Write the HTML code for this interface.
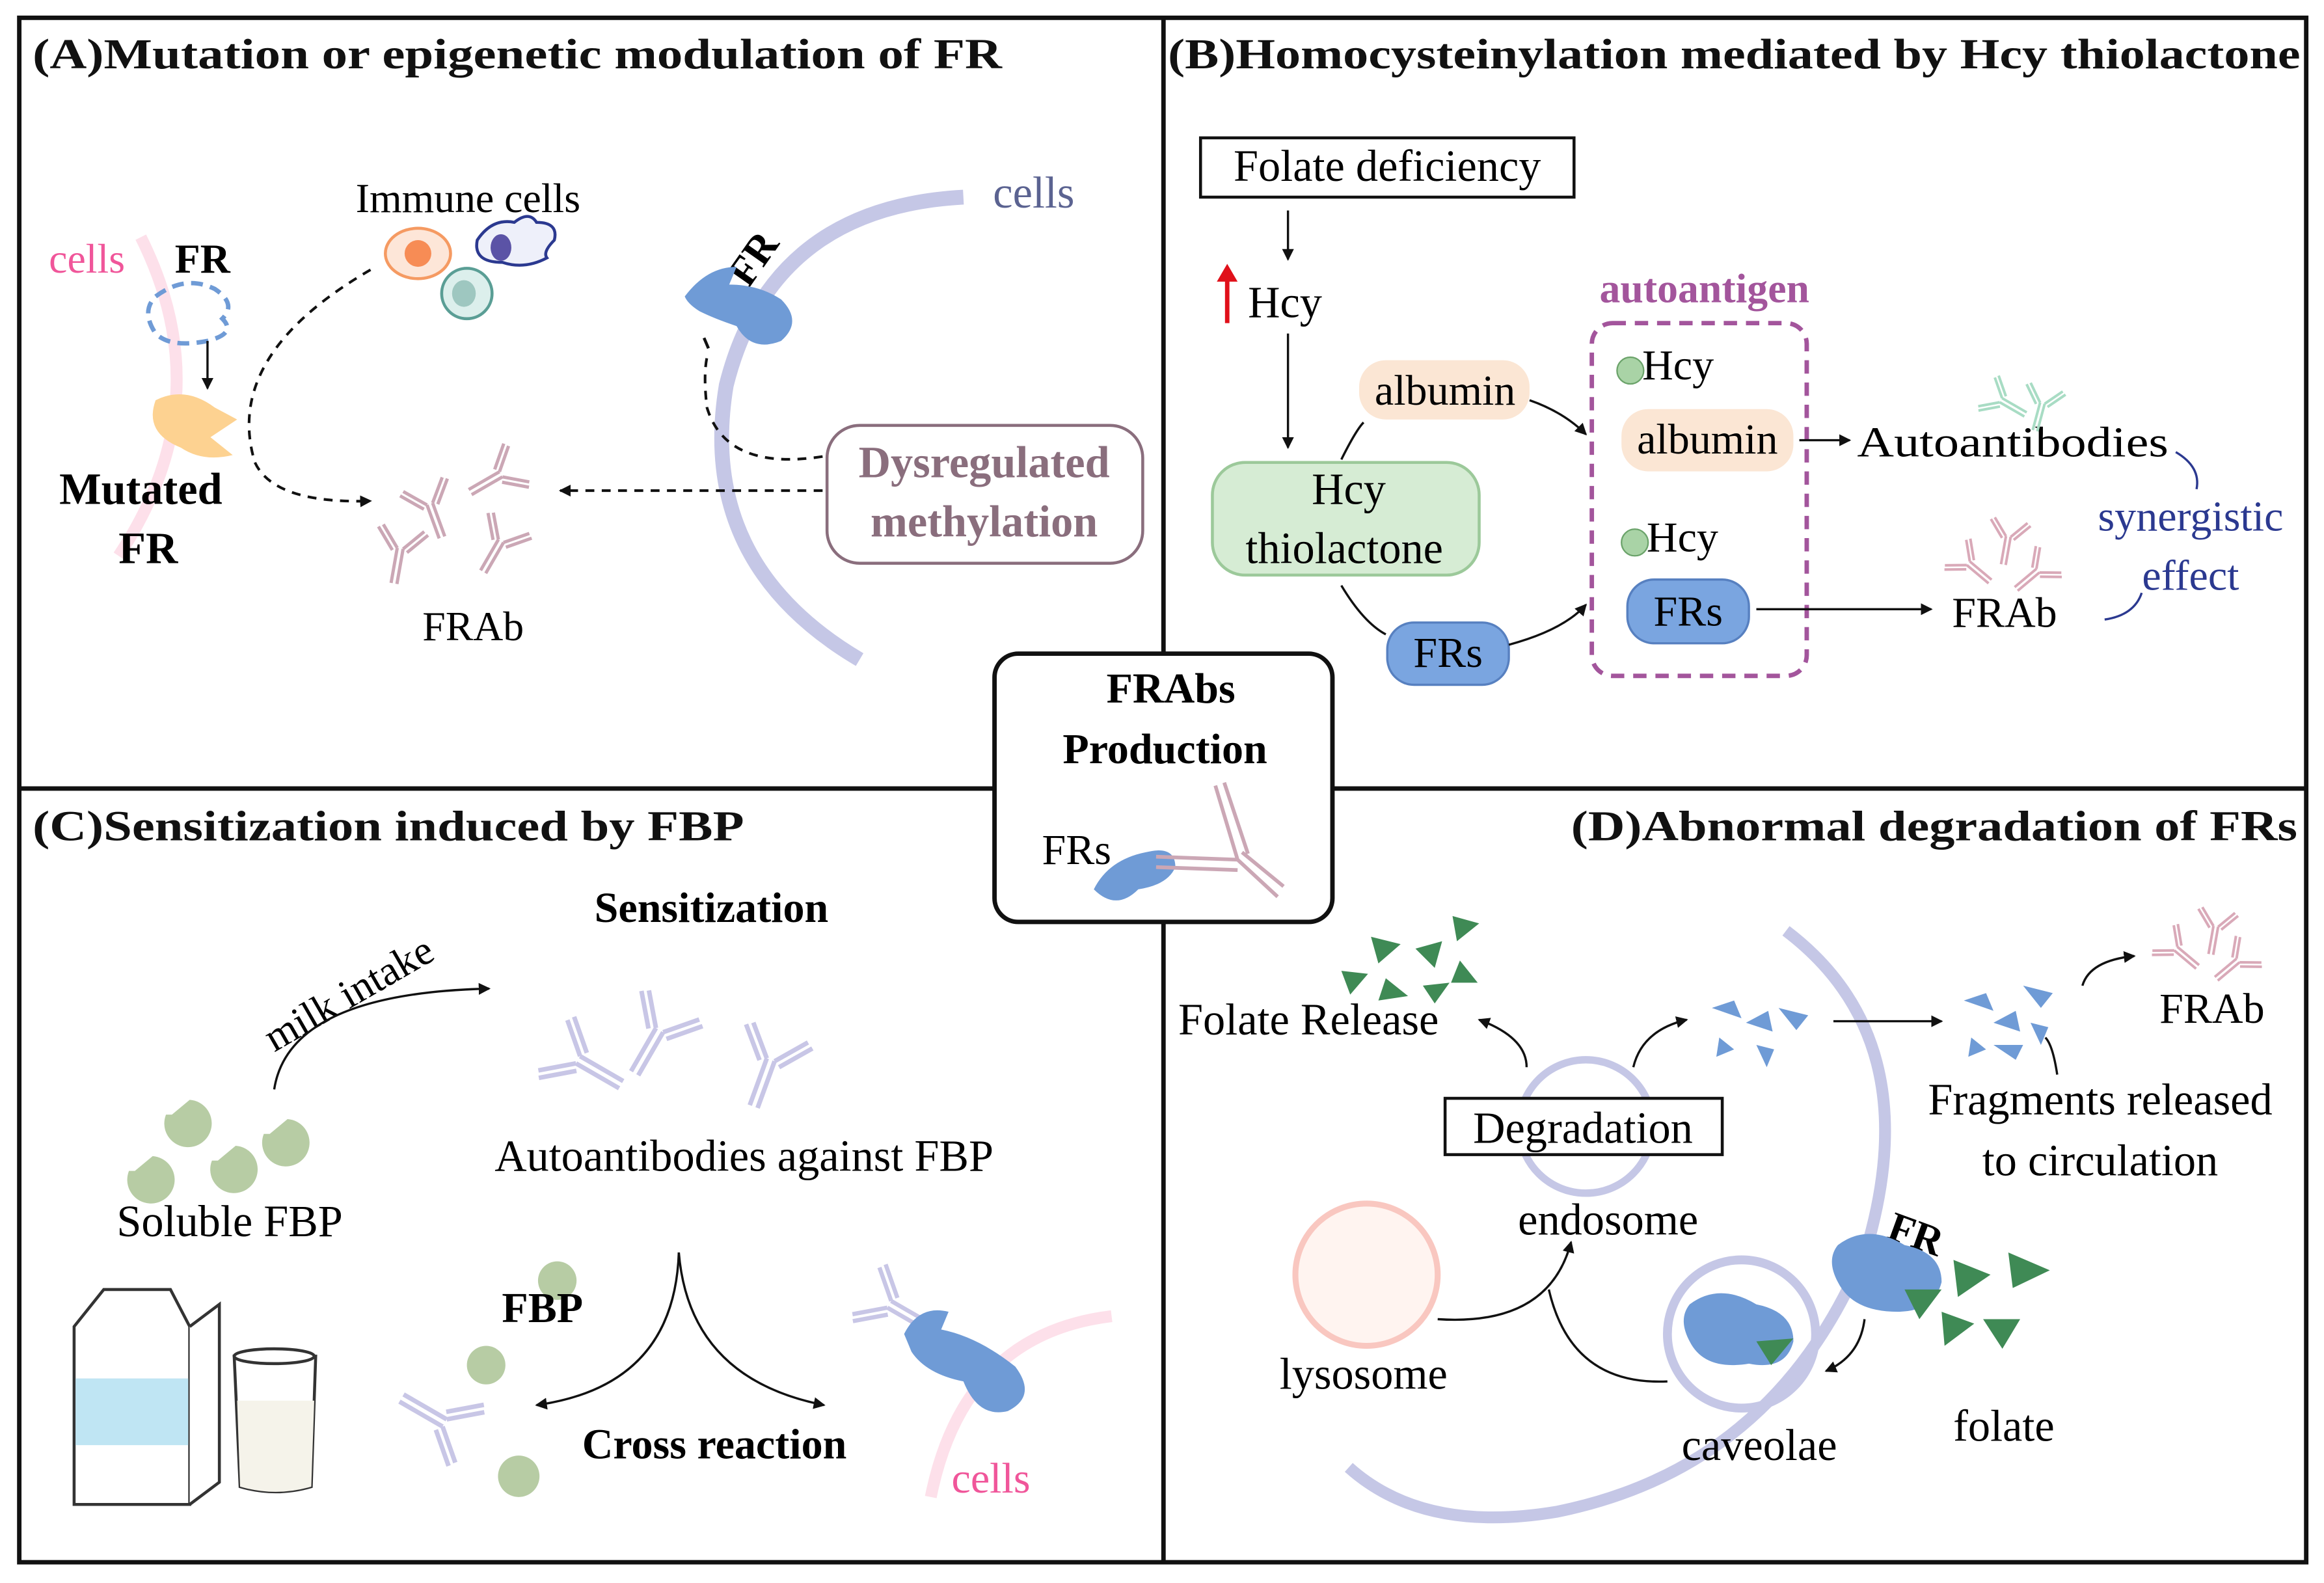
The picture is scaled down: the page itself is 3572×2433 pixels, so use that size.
<!DOCTYPE html>
<html><head><meta charset="utf-8"><style>html,body{margin:0;padding:0;background:#fff}svg{display:block}</style></head>
<body>
<svg width="3572" height="2433" viewBox="0 0 1568 1068" xmlns="http://www.w3.org/2000/svg" font-family="Liberation Serif, serif">
<defs>
<marker id="ah" markerWidth="8" markerHeight="8" refX="7" refY="4" orient="auto" markerUnits="userSpaceOnUse"><path d="M0,0 L8,4 L0,8 z" fill="#111"/></marker>
<g id="ab"><path d="M-2,0 V24 M2,0 V24 M-2,0 L-14,-14 M-5,2 L-17,-12 M2,0 L14,-14 M5,2 L17,-12" stroke="currentColor" stroke-width="2.2" fill="none"/></g>
</defs>
<rect x="0" y="0" width="1568" height="1068" fill="#fff"/>
<rect x="13" y="12" width="1543" height="1042" fill="none" stroke="#111" stroke-width="3"/>
<line x1="785" y1="12" x2="785" y2="1054" stroke="#111" stroke-width="3"/>
<line x1="13" y1="532" x2="1556" y2="532" stroke="#111" stroke-width="3"/>

<!-- Titles -->
<g font-weight="bold" font-size="29" fill="#111">
<text x="22" y="46" textLength="654" lengthAdjust="spacingAndGlyphs">(A)Mutation or epigenetic modulation of FR</text>
<text x="788" y="46" textLength="764" lengthAdjust="spacingAndGlyphs">(B)Homocysteinylation mediated by Hcy thiolactone</text>
<text x="22" y="567" textLength="480" lengthAdjust="spacingAndGlyphs">(C)Sensitization induced by FBP</text>
<text x="1060" y="567" textLength="490" lengthAdjust="spacingAndGlyphs">(D)Abnormal degradation of FRs</text>
</g>

<!-- Panel A -->
<path d="M95,160 Q150,270 80,375" stroke="#fde0ea" stroke-width="8" fill="none"/>
<text x="33" y="184" font-size="28" fill="#f0569a">cells</text>
<text x="118" y="184" font-size="28" font-weight="bold">FR</text>
<path d="M105,200 q20,-15 40,-5 q15,10 5,20 q10,10 -10,15 q-25,5 -35,-5 q-10,-15 0,-25z" fill="none" stroke="#6f9bd6" stroke-width="3" stroke-dasharray="8 5"/>
<line x1="140" y1="230" x2="140" y2="262" stroke="#111" stroke-width="1.5" marker-end="url(#ah)"/>
<path d="M105,270 q20,-10 40,5 l15,8 l-18,12 l15,12 q-20,5 -35,-5 q-25,-10 -17,-32z" fill="#fdd291"/>
<text x="40" y="340" font-size="30" font-weight="bold">Mutated</text>
<text x="80" y="380" font-size="30" font-weight="bold">FR</text>
<text x="240" y="143" font-size="28">Immune cells</text>
<ellipse cx="282" cy="171" rx="22" ry="17" fill="#fde6d8" stroke="#f59a62" stroke-width="2"/>
<ellipse cx="282" cy="171" rx="9" ry="9" fill="#f78c55"/>
<ellipse cx="315" cy="198" rx="17" ry="17" fill="#dcefec" stroke="#5a9e95" stroke-width="2"/>
<ellipse cx="313" cy="198" rx="8" ry="9" fill="#9ec7c0"/>
<path d="M322,162 q10,-15 25,-12 q10,-8 15,0 q15,0 12,12 q-8,8 -5,12 q-15,8 -30,3 q-20,0 -17,-15z" fill="#eef0fa" stroke="#2b3990" stroke-width="2"/>
<ellipse cx="338" cy="167" rx="7" ry="9" fill="#5b53a6"/>
<path d="M250,182 Q150,240 172,312 Q185,340 250,338" fill="none" stroke="#111" stroke-width="1.8" stroke-dasharray="6 5" marker-end="url(#ah)"/>
<g color="#cba7b5">
<use href="#ab" transform="translate(290,340) rotate(-20)"/>
<use href="#ab" transform="translate(338,320) rotate(60)"/>
<use href="#ab" transform="translate(270,370) rotate(10)"/>
<use href="#ab" transform="translate(338,365) rotate(30)"/>
</g>
<text x="285" y="432" font-size="28">FRAb</text>
<path d="M650,133 Q520,140 490,260 Q470,380 580,445" stroke="#c5c7e6" stroke-width="10" fill="none"/>
<text x="670" y="140" font-size="30" fill="#5b6391">cells</text>
<text x="0" y="0" font-size="28" font-weight="bold" transform="translate(505,195) rotate(-55)">FR</text>
<path d="M462,200 q15,-20 35,-20 l-5,12 q20,0 35,10 q15,15 0,28 q-20,8 -30,-10 q-15,-5 -25,-10 q-8,-5 -10,-10z" fill="#6f9bd6"/>
<line x1="475" y1="228" x2="478" y2="235" stroke="#111" stroke-width="2"/>
<path d="M555,308 Q490,318 477,275 Q474,250 478,237" fill="none" stroke="#111" stroke-width="1.8" stroke-dasharray="6 5"/>
<line x1="555" y1="331" x2="378" y2="331" stroke="#111" stroke-width="1.8" stroke-dasharray="6 5" marker-end="url(#ah)"/>
<rect x="558" y="287" width="213" height="93" rx="22" fill="#fff" stroke="#8a6e7d" stroke-width="2"/>
<text x="664" y="322" font-size="30" font-weight="bold" fill="#8a6e7d" text-anchor="middle">Dysregulated</text>
<text x="664" y="362" font-size="30" font-weight="bold" fill="#8a6e7d" text-anchor="middle">methylation</text>

<!-- Panel B -->
<rect x="810" y="93" width="252" height="40" fill="#fff" stroke="#111" stroke-width="2"/>
<text x="936" y="122" font-size="30" text-anchor="middle">Folate deficiency</text>
<line x1="869" y1="142" x2="869" y2="175" stroke="#111" stroke-width="1.5" marker-end="url(#ah)"/>
<path d="M828,218 V185" stroke="#e0101a" stroke-width="3"/><path d="M821,190 L828,178 L835,190z" fill="#e0101a"/>
<text x="842" y="214" font-size="30">Hcy</text>
<line x1="869" y1="225" x2="869" y2="302" stroke="#111" stroke-width="1.5" marker-end="url(#ah)"/>
<rect x="818" y="312" width="180" height="76" rx="22" fill="#d6ecd4" stroke="#9cc99a" stroke-width="2"/>
<text x="910" y="340" font-size="30" text-anchor="middle">Hcy</text>
<text x="907" y="380" font-size="30" text-anchor="middle">thiolactone</text>
<rect x="917" y="243" width="115" height="40" rx="18" fill="#fbe6d4"/>
<text x="975" y="273" font-size="29" text-anchor="middle">albumin</text>
<rect x="936" y="420" width="82" height="42" rx="18" fill="#7aa5e0" stroke="#5780c0" stroke-width="1.5"/>
<text x="977" y="450" font-size="29" text-anchor="middle">FRs</text>
<path d="M905,310 Q915,290 920,285" fill="none" stroke="#111" stroke-width="1.5"/>
<path d="M1032,270 Q1055,278 1070,293" fill="none" stroke="#111" stroke-width="1.5" marker-end="url(#ah)"/>
<path d="M905,395 Q920,420 935,428" fill="none" stroke="#111" stroke-width="1.5"/>
<path d="M1018,435 Q1055,425 1070,408" fill="none" stroke="#111" stroke-width="1.5" marker-end="url(#ah)"/>
<text x="1150" y="204" font-size="28" font-weight="bold" fill="#a3559c" text-anchor="middle">autoantigen</text>
<rect x="1074" y="218" width="145" height="238" rx="14" fill="none" stroke="#a3559c" stroke-width="3" stroke-dasharray="9 6"/>
<circle cx="1100" cy="250" r="9" fill="#a9d3a6" stroke="#6ba36a"/>
<text x="1108" y="256" font-size="29">Hcy</text>
<rect x="1094" y="276" width="116" height="42" rx="18" fill="#fbe6d4"/>
<text x="1152" y="306" font-size="29" text-anchor="middle">albumin</text>
<circle cx="1103" cy="366" r="9" fill="#a9d3a6" stroke="#6ba36a"/>
<text x="1111" y="372" font-size="29">Hcy</text>
<rect x="1098" y="391" width="82" height="43" rx="18" fill="#7aa5e0" stroke="#5780c0" stroke-width="1.5"/>
<text x="1139" y="422" font-size="29" text-anchor="middle">FRs</text>
<line x1="1214" y1="297" x2="1248" y2="297" stroke="#111" stroke-width="1.5" marker-end="url(#ah)"/>
<text x="1253" y="308" font-size="29" textLength="210" lengthAdjust="spacingAndGlyphs">Autoantibodies</text>
<line x1="1185" y1="411" x2="1303" y2="411" stroke="#111" stroke-width="1.5" marker-end="url(#ah)"/>
<text x="1317" y="423" font-size="29">FRAb</text>
<g color="#a8dcc4"><use href="#ab" transform="translate(1350,270) rotate(-60) scale(0.8)"/><use href="#ab" transform="translate(1378,272) rotate(15) scale(0.8)"/></g>
<g color="#d9a9b8"><use href="#ab" transform="translate(1328,380) rotate(-50) scale(0.8)"/><use href="#ab" transform="translate(1355,362) rotate(10) scale(0.8)"/><use href="#ab" transform="translate(1375,385) rotate(50) scale(0.8)"/></g>
<path d="M1468,305 Q1485,315 1482,330" fill="none" stroke="#2b3990" stroke-width="1.5"/>
<path d="M1420,418 Q1440,415 1445,400" fill="none" stroke="#2b3990" stroke-width="1.5"/>
<text x="1478" y="358" font-size="29" fill="#2b3990" text-anchor="middle">synergistic</text>
<text x="1478" y="398" font-size="29" fill="#2b3990" text-anchor="middle">effect</text>

<!-- Center box -->
<rect x="671" y="441" width="228" height="181" rx="16" fill="#fff" stroke="#111" stroke-width="3"/>
<text x="790" y="474" font-size="29" font-weight="bold" text-anchor="middle">FRAbs</text>
<text x="786" y="515" font-size="29" font-weight="bold" text-anchor="middle">Production</text>
<text x="703" y="583" font-size="29">FRs</text>
<path d="M738,600 q10,-20 35,-25 q20,-5 20,10 q-5,12 -25,15 q-15,15 -30,0z" fill="#6f9bd6"/>
<g stroke="#cba7b5" stroke-width="2.5" fill="none"><path d="M780,578 L835,580 M780,585 L835,587 M835,580 L862,605 M838,575 L866,598 M835,580 L820,530 M842,576 L826,528"/></g>

<!-- Panel C -->
<text x="480" y="622" font-size="29" font-weight="bold" text-anchor="middle">Sensitization</text>
<text x="0" y="0" font-size="28" transform="translate(185,710) rotate(-30)">milk intake</text>
<path d="M185,735 Q195,670 330,667" fill="none" stroke="#111" stroke-width="1.5" marker-end="url(#ah)"/>
<g fill="#b7cca4">
<path d="M112,752 a16,16 0 1 0 16,-10 l-12,10z"/>
<path d="M143,783 a16,16 0 1 0 16,-10 l-12,10z"/>
<path d="M178,765 a16,16 0 1 0 16,-10 l-12,10z"/>
<path d="M87,790 a16,16 0 1 0 16,-10 l-12,10z"/>
</g>
<text x="155" y="834" font-size="30" text-anchor="middle">Soluble FBP</text>
<g color="#c8c6e6">
<use href="#ab" transform="translate(390,715) rotate(-60) scale(1.4)"/>
<use href="#ab" transform="translate(445,695) rotate(30) scale(1.4)"/>
<use href="#ab" transform="translate(520,715) rotate(20) scale(1.4)"/>
</g>
<text x="502" y="790" font-size="30" text-anchor="middle">Autoantibodies against FBP</text>
<path d="M458,845 Q455,935 362,948" fill="none" stroke="#111" stroke-width="1.5" marker-end="url(#ah)"/>
<path d="M458,845 Q465,930 556,948" fill="none" stroke="#111" stroke-width="1.5" marker-end="url(#ah)"/>
<circle cx="376" cy="864" r="13" fill="#b7cca4"/>
<text x="366" y="892" font-size="29" font-weight="bold" text-anchor="middle">FBP</text>
<text x="482" y="984" font-size="29" font-weight="bold" text-anchor="middle">Cross reaction</text>
<g color="#c8c6e6"><use href="#ab" transform="translate(300,960) rotate(120) scale(1.4)"/></g>
<circle cx="328" cy="921" r="13" fill="#b7cca4"/><circle cx="350" cy="996" r="14" fill="#b7cca4"/>
<!-- milk -->
<path d="M50,895 L70,870 L115,870 L128,895 V1015 H50z" fill="#fff" stroke="#333" stroke-width="2"/>
<rect x="51" y="930" width="76" height="45" fill="#bfe5f3"/>
<path d="M128,895 L148,880 V1000 L128,1015" fill="#fff" stroke="#333" stroke-width="2"/>
<path d="M158,915 L162,1003 Q186,1010 210,1003 L213,915z" fill="#fff" stroke="#333" stroke-width="2"/>
<path d="M160,945 L162,1003 Q186,1010 210,1003 L212,945z" fill="#f5f3ea"/>
<ellipse cx="185" cy="915" rx="27" ry="5" fill="#fff" stroke="#333" stroke-width="2"/>
<path d="M628,1010 Q650,900 750,888" stroke="#fde0ea" stroke-width="8" fill="none"/>
<g color="#c8c6e6"><use href="#ab" transform="translate(600,880) rotate(-60) scale(1.3)"/></g>
<path d="M610,900 q10,-20 30,-15 l-5,12 q25,5 50,25 q15,20 -5,30 q-20,5 -30,-20 q-25,-5 -35,-20z" fill="#6f9bd6"/>
<text x="642" y="1007" font-size="29" fill="#f0569a">cells</text>

<!-- Panel D -->
<path d="M1205,628 Q1300,700 1260,840 Q1200,990 1050,1020 Q960,1035 910,990" stroke="#c5c7e6" stroke-width="8" fill="none"/>
<circle cx="1175" cy="900" r="50" fill="none" stroke="#c5c7e6" stroke-width="6"/>
<g fill="#3f8a55">
<path d="M925,632 l20,5 -15,13z"/><path d="M955,640 l18,-5 -5,18z"/><path d="M980,618 l18,5 -15,12z"/>
<path d="M905,655 l18,2 -12,14z"/><path d="M935,660 l15,12 -20,3z"/><path d="M960,665 l18,-2 -10,14z"/><path d="M985,648 l12,15 -18,0z"/>
</g>
<text x="795" y="698" font-size="30">Folate Release</text>
<circle cx="1070" cy="760" r="45" fill="none" stroke="#c5c7e6" stroke-width="5"/>
<rect x="975" y="741" width="187" height="38" fill="#fff" stroke="#111" stroke-width="2"/>
<text x="1068" y="771" font-size="30" text-anchor="middle">Degradation</text>
<path d="M1030,720 Q1030,700 998,688" fill="none" stroke="#111" stroke-width="1.5" marker-end="url(#ah)"/>
<path d="M1102,720 Q1108,695 1138,688" fill="none" stroke="#111" stroke-width="1.5" marker-end="url(#ah)"/>
<g fill="#6f9bd6"><path d="M1155,680 l15,-5 5,12z"/><path d="M1178,690 l15,-8 3,14z"/><path d="M1160,700 l10,8 -12,5z"/><path d="M1200,680 l20,5 -8,10z"/><path d="M1185,705 l12,3 -5,12z"/>
<path d="M1325,675 l15,-5 5,12z"/><path d="M1345,690 l15,-8 3,14z"/><path d="M1330,700 l10,8 -12,5z"/><path d="M1365,665 l20,5 -8,10z"/><path d="M1370,690 l12,3 -5,12z"/><path d="M1345,705 l20,0 -5,10z"/></g>
<line x1="1237" y1="689" x2="1310" y2="689" stroke="#111" stroke-width="1.5" marker-end="url(#ah)"/>
<path d="M1405,665 Q1410,648 1440,645" fill="none" stroke="#111" stroke-width="1.5" marker-end="url(#ah)"/>
<g color="#d9a9b8"><use href="#ab" transform="translate(1468,640) rotate(-50) scale(0.8)"/><use href="#ab" transform="translate(1495,625) rotate(10) scale(0.8)"/><use href="#ab" transform="translate(1510,648) rotate(50) scale(0.8)"/></g>
<text x="1457" y="690" font-size="29">FRAb</text>
<path d="M1388,725 Q1385,705 1380,700" fill="none" stroke="#111" stroke-width="1.5"/>
<text x="1417" y="752" font-size="30" text-anchor="middle">Fragments released</text>
<text x="1417" y="793" font-size="30" text-anchor="middle">to circulation</text>
<text x="1085" y="833" font-size="30" text-anchor="middle">endosome</text>
<circle cx="922" cy="860" r="48" fill="#fff4f0" stroke="#f9c7c0" stroke-width="4"/>
<text x="920" y="937" font-size="30" text-anchor="middle">lysosome</text>
<path d="M970,890 Q1045,895 1060,838" fill="none" stroke="#111" stroke-width="1.5" marker-end="url(#ah)"/>
<path d="M1125,932 Q1060,935 1045,870" fill="none" stroke="#111" stroke-width="1.5"/>
<path d="M1140,880 q20,-15 45,0 q25,5 25,25 q-5,20 -30,15 q-30,5 -40,-15 q-8,-15 0,-25z" fill="#6f9bd6"/>
<path d="M1185,905 l25,-2 -15,18z" fill="#3f8a55"/>
<text x="1187" y="985" font-size="30" text-anchor="middle">caveolae</text>
<text x="0" y="0" font-size="28" font-weight="bold" transform="translate(1272,835) rotate(20)">FR</text>
<path d="M1240,840 q20,-15 45,0 q25,5 25,25 q-5,20 -30,20 q-30,0 -40,-20 q-8,-15 0,-25z" fill="#6f9bd6"/>
<g fill="#3f8a55"><path d="M1285,870 l25,0 -15,20z"/><path d="M1318,850 l25,10 -22,15z"/><path d="M1355,845 l28,12 -25,12z"/><path d="M1310,885 l22,8 -20,15z"/><path d="M1338,890 l25,0 -12,20z"/></g>
<path d="M1258,890 Q1255,915 1232,925" fill="none" stroke="#111" stroke-width="1.5" marker-end="url(#ah)"/>
<text x="1352" y="972" font-size="30" text-anchor="middle">folate</text>
</svg>
</body></html>
